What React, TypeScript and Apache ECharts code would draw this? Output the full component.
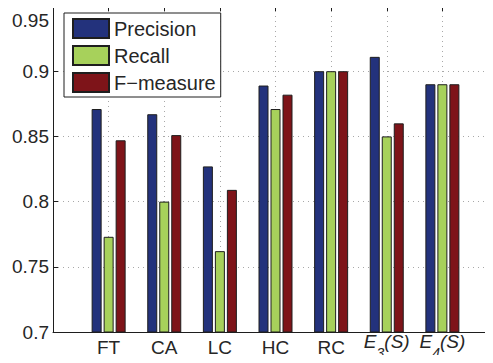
import React, { useEffect, useRef } from "react";
import * as echarts from "echarts";

const categories = ["", "FT", "CA", "LC", "HC", "RC", "E3(S)", "E4(S)", ""];
const precision = ["-", 0.871, 0.867, 0.827, 0.889, 0.9, 0.911, 0.89, "-"];
const recall = ["-", 0.773, 0.8, 0.762, 0.871, 0.9, 0.85, 0.89, "-"];
const fmeasure = ["-", 0.847, 0.851, 0.809, 0.882, 0.9, 0.86, 0.89, "-"];
const yMin = 0.7;
const yMax = 0.95;
const yStep = 0.05;

const FONT = "'Liberation Sans', Arial, Helvetica, sans-serif";
const TEXT = "#262626";

export default function App() {
  const ref = useRef<HTMLDivElement>(null);
  useEffect(() => {
    if (!ref.current) return;
    const chart = echarts.init(ref.current, undefined, { renderer: "svg" });
    const grid = "#a8a8a8";
    const bar = (name: string, data: any[], color: string) => ({
      name,
      type: "bar",
      data,
      barWidth: 10,
      barGap: "20%",
      itemStyle: { color, borderColor: "#1e1e1e", borderWidth: 1 },
    });
    const base = { color: TEXT, fontFamily: FONT };
    chart.setOption({
      animation: false,
      textStyle: { fontFamily: FONT },
      grid: { left: 53, top: 6, right: -5, bottom: 31, outerBoundsMode: "none" },
      legend: {
        orient: "vertical",
        left: 64,
        top: 13,
        icon: "rect",
        itemWidth: 36,
        itemHeight: 19,
        itemGap: 6,
        padding: [5, 5, 4, 8],
        borderColor: "#1e1e1e",
        borderWidth: 1,
        backgroundColor: "#fff",
        textStyle: { fontSize: 20, color: TEXT, fontFamily: FONT, lineHeight: 20 },
        data: ["Precision", "Recall", "F\u2212measure"],
      },
      xAxis: [
        {
          type: "category",
          data: categories,
          boundaryGap: false,
          axisLine: { lineStyle: { color: "#1e1e1e", width: 1 } },
          axisTick: { inside: true, length: 5, interval: 0, lineStyle: { color: "#1e1e1e" } },
          splitLine: { show: true, interval: 0, lineStyle: { color: grid, type: [1, 4], width: 1 } },
          axisLabel: {
            interval: 0,
            margin: 0,
            verticalAlign: "top",
            fontSize: 19,
            ...base,
            formatter: (v: string) => {
              const m = v.match(/^E(\d)\(S\)$/);
              if (m) return "{i|E}{sub|" + m[1] + "}{i|(S)}";
              return "{n|" + v + "}";
            },
            rich: {
              n: { ...base, fontSize: 19, lineHeight: 20, verticalAlign: "top", padding: [6, 0, 0, 0] },
              i: { ...base, fontStyle: "italic", fontSize: 19, lineHeight: 20, verticalAlign: "top" },
              sub: { ...base, fontStyle: "italic", fontSize: 14, lineHeight: 14, verticalAlign: "top", padding: [14, 0, 0, 0] },
            },
          },
        },
        {
          type: "category",
          data: categories,
          boundaryGap: false,
          position: "top",
          axisLine: { lineStyle: { color: "#1e1e1e", width: 1 } },
          axisTick: { inside: true, length: 5, interval: 0, lineStyle: { color: "#1e1e1e" } },
          axisLabel: { show: false },
          splitLine: { show: false },
        },
      ],
      yAxis: {
        type: "value",
        min: yMin,
        max: yMax,
        interval: yStep,
        axisLine: { show: true, lineStyle: { color: "#1e1e1e", width: 1 } },
        axisTick: { show: true, inside: true, length: 5, lineStyle: { color: "#1e1e1e" } },
        splitLine: { show: true, lineStyle: { color: grid, type: [1, 4], width: 1 } },
        axisLabel: {
          margin: 4,
          fontSize: 19,
          ...base,
          formatter: (v: number) => {
            const s = String(+v.toFixed(2));
            return Math.abs(v - yMax) < 1e-9 ? "{top|" + s + "}" : s;
          },
          rich: {
            top: { ...base, fontSize: 19, lineHeight: 20, padding: [29, 0, 0, 0] },
          },
        },
      },
      series: [
        bar("Precision", precision, "#23327c"),
        bar("Recall", recall, "#a7d15b"),
        bar("F\u2212measure", fmeasure, "#7e1419"),
      ],
    });
    return () => chart.dispose();
  }, []);
  return <div ref={ref} style={{ width: 493, height: 363, margin: -8, background: "#fff" }} />;
}
